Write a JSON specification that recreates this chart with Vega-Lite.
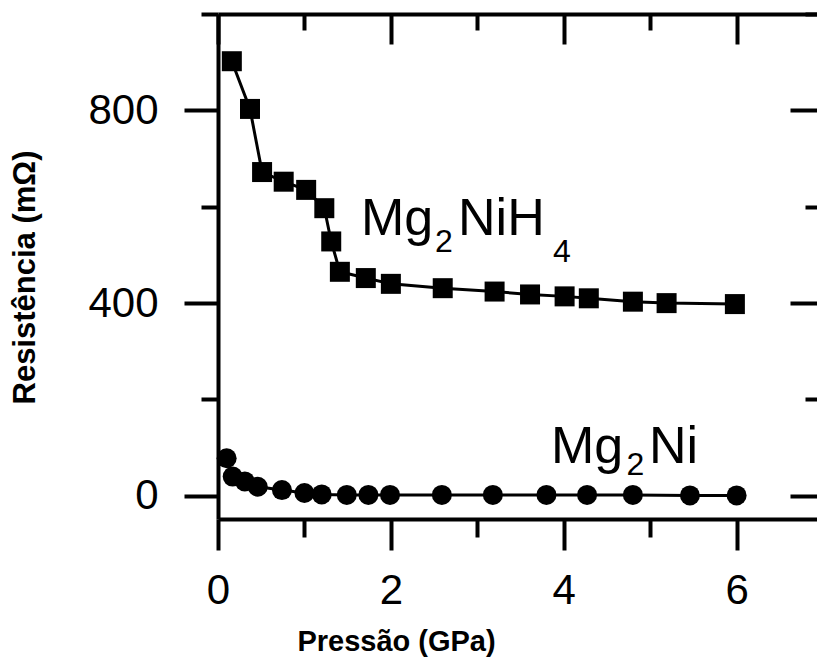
{
  "$schema": "https://vega.github.io/schema/vega-lite/v6.json",
  "width": 599,
  "height": 505,
  "autosize": {"type": "none"},
  "padding": {"left": 218, "top": 14, "right": 0, "bottom": 138},
  "background": "white",
  "config": {
    "view": {"stroke": null},
    "font": "Liberation Sans",
    "axis": {
      "grid": false,
      "domainColor": "black",
      "domainWidth": 4,
      "tickColor": "black",
      "tickWidth": 4,
      "labelColor": "black",
      "titleColor": "black",
      "labelFont": "Liberation Sans",
      "titleFont": "Liberation Sans"
    }
  },
  "datasets": {
    "hydride": [
      {"p": 0.16, "r": 902}, {"p": 0.37, "r": 803}, {"p": 0.51, "r": 672},
      {"p": 0.76, "r": 652}, {"p": 1.02, "r": 635}, {"p": 1.23, "r": 597},
      {"p": 1.31, "r": 528}, {"p": 1.41, "r": 465}, {"p": 1.71, "r": 452},
      {"p": 2.0, "r": 440}, {"p": 2.6, "r": 431}, {"p": 3.2, "r": 424},
      {"p": 3.61, "r": 418}, {"p": 4.01, "r": 414}, {"p": 4.29, "r": 410},
      {"p": 4.8, "r": 403}, {"p": 5.19, "r": 400}, {"p": 5.98, "r": 398}
    ],
    "alloy": [
      {"p": 0.1, "r": 78}, {"p": 0.17, "r": 40}, {"p": 0.31, "r": 30},
      {"p": 0.46, "r": 19}, {"p": 0.74, "r": 12}, {"p": 1.0, "r": 6},
      {"p": 1.2, "r": 3}, {"p": 1.49, "r": 2}, {"p": 1.74, "r": 2},
      {"p": 1.99, "r": 2}, {"p": 2.59, "r": 2}, {"p": 3.18, "r": 2},
      {"p": 3.8, "r": 2}, {"p": 4.27, "r": 2}, {"p": 4.8, "r": 2},
      {"p": 5.46, "r": 1}, {"p": 6.0, "r": 1}
    ],
    "labels_main": [
      {"p": 1.655, "r": 541, "t": "Mg"},
      {"p": 2.777, "r": 541, "t": "NiH"},
      {"p": 3.853, "r": 68, "t": "Mg"},
      {"p": 4.987, "r": 68, "t": "Ni"}
    ],
    "labels_sub": [
      {"p": 2.51, "r": 506, "t": "2"},
      {"p": 3.876, "r": 485, "t": "4"},
      {"p": 4.726, "r": 43, "t": "2"}
    ]
  },
  "layer": [
    {
      "data": {"name": "hydride"},
      "mark": {"type": "line", "color": "black", "strokeWidth": 3},
      "encoding": {
        "x": {
          "field": "p", "type": "quantitative",
          "scale": {"domain": [0, 6.93], "nice": false, "zero": false},
          "axis": {
            "orient": "bottom",
            "values": [0, 1, 2, 3, 4, 5, 6],
            "labelExpr": "datum.value % 2 === 0 ? datum.label : ''",
            "tickSize": {"condition": {"test": "datum.value % 2 === 0", "value": 31}, "value": 18},
            "labelFontSize": 42,
            "labelPadding": 20,
            "labelFlush": false,
            "labelOverlap": false,
            "title": "Pressão (GPa)",
            "titleFontSize": 29,
            "titleFontWeight": "bold",
            "titleAnchor": "middle",
            "titleAlign": "center",
            "titleBaseline": "middle",
            "titleX": 178,
            "titleY": 122
          }
        },
        "y": {
          "field": "r", "type": "quantitative",
          "scale": {"domain": [-48, 1000], "nice": false, "zero": false},
          "axis": {
            "orient": "left",
            "values": [0, 200, 400, 600, 800, 1000],
            "labelExpr": "datum.value % 400 === 0 ? datum.label : ''",
            "tickSize": {"condition": {"test": "datum.value % 400 === 0", "value": 34}, "value": 17},
            "labelFontSize": 42,
            "labelPadding": 26,
            "labelFlush": false,
            "labelOverlap": false,
            "title": "Resistência (mΩ)",
            "titleFontSize": 31,
            "titleFontWeight": "bold",
            "titleAngle": -90,
            "titleAlign": "center",
            "titleBaseline": "middle",
            "titleX": -193,
            "titleY": 263
          }
        }
      }
    },
    {
      "data": {"name": "hydride"},
      "mark": {"type": "point", "shape": "square", "filled": true, "color": "black", "opacity": 1, "size": 400},
      "encoding": {
        "x": {"field": "p", "type": "quantitative", "axis": null},
        "y": {"field": "r", "type": "quantitative", "axis": null}
      }
    },
    {
      "data": {"name": "alloy"},
      "mark": {"type": "line", "color": "black", "strokeWidth": 3},
      "encoding": {
        "x": {"field": "p", "type": "quantitative", "axis": null},
        "y": {"field": "r", "type": "quantitative", "axis": null}
      }
    },
    {
      "data": {"name": "alloy"},
      "mark": {"type": "point", "shape": "circle", "filled": true, "color": "black", "opacity": 1, "size": 400},
      "encoding": {
        "x": {"field": "p", "type": "quantitative", "axis": null},
        "y": {"field": "r", "type": "quantitative", "axis": null}
      }
    },
    {
      "data": {"name": "labels_main"},
      "mark": {"type": "text", "align": "left", "baseline": "alphabetic", "fontSize": 52, "color": "black", "font": "Liberation Sans"},
      "encoding": {
        "x": {"field": "p", "type": "quantitative", "axis": null},
        "y": {"field": "r", "type": "quantitative", "axis": null},
        "text": {"field": "t"}
      }
    },
    {
      "data": {"name": "labels_sub"},
      "mark": {"type": "text", "align": "left", "baseline": "alphabetic", "fontSize": 32, "color": "black", "font": "Liberation Sans"},
      "encoding": {
        "x": {"field": "p", "type": "quantitative", "axis": null},
        "y": {"field": "r", "type": "quantitative", "axis": null},
        "text": {"field": "t"}
      }
    },
    {
      "data": {"name": "hydride"},
      "mark": {"type": "point", "opacity": 0},
      "encoding": {
        "x": {
          "field": "p", "type": "quantitative",
          "axis": {
            "orient": "top",
            "values": [0, 1, 2, 3, 4, 5, 6],
            "labels": false,
            "title": null,
            "tickSize": {"condition": {"test": "datum.value % 2 === 0", "value": -30}, "value": -16}
          }
        },
        "y": {
          "field": "r", "type": "quantitative",
          "axis": {
            "orient": "right",
            "offset": 6,
            "values": [0, 200, 400, 600, 800, 1000],
            "labels": false,
            "title": null,
            "tickSize": {"condition": {"test": "datum.value % 400 === 0", "value": -33}, "value": -18}
          }
        }
      }
    }
  ],
  "resolve": {"axis": {"x": "independent", "y": "independent"}}
}
